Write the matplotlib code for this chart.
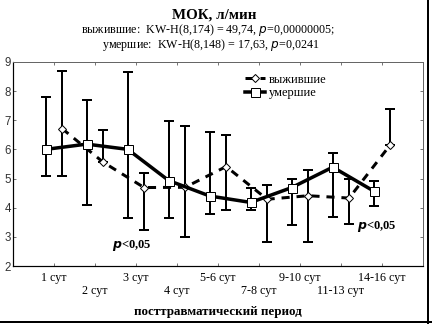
import numpy as np
import matplotlib
matplotlib.use("Agg")
import matplotlib.pyplot as plt
from matplotlib.lines import Line2D

plt.rcParams["font.family"] = ["Liberation Serif", "DejaVu Serif"]

# Days after trauma
categories = ["1 сут", "2 сут", "3 сут", "4 сут", "5-6 сут", "7-8 сут",
              "9-10 сут", "11-13 сут", "14-16 сут"]

# умершие: mean and interval bounds
died_mean = [6.0, 6.18, 6.0, 4.93, 4.4, 4.18, 4.69, 5.39, 4.57]
died_hi = [7.8, 7.71, 8.65, 6.98, 6.58, 4.67, 5.0, 5.89, 4.92]
died_lo = [5.1, 4.1, 3.66, 3.66, 3.8, 3.92, 3.41, 3.69, 4.06]

# выжившие: mean and interval bounds
surv_mean = [6.71, 5.56, 4.69, 4.7, 5.41, 4.29, 4.41, 4.33, 6.15]
surv_hi = [8.7, 6.68, 5.2, 6.81, 6.5, 4.78, 5.29, 5.0, 7.38]
surv_lo = [5.1, 5.56, 3.22, 3.0, 3.92, 2.81, 2.81, 3.43, 6.15]

x = np.arange(1, len(categories) + 1)
off = 0.2

fig = plt.figure(figsize=(6, 4.5), dpi=72)
ax = fig.add_axes([0.030, 0.179, 0.949, 0.630])

# error bars
dm = np.array(died_mean)
sm = np.array(surv_mean)
ax.errorbar(x - off, dm, yerr=[dm - np.array(died_lo), np.array(died_hi) - dm],
            fmt="none", ecolor="black", elinewidth=2, capsize=5, capthick=2, zorder=2)
ax.errorbar(x + off, sm, yerr=[sm - np.array(surv_lo), np.array(surv_hi) - sm],
            fmt="none", ecolor="black", elinewidth=2, capsize=5, capthick=2, zorder=2)

# series lines
ax.plot(x + off, sm, color="black", linewidth=3, dashes=(2.7, 2.3),
        marker="D", markersize=6, markerfacecolor="white", markeredgecolor="black",
        markeredgewidth=1, label="выжившие", zorder=3)
ax.plot(x - off, dm, color="black", linewidth=3.5,
        marker="s", markersize=9, markerfacecolor="white", markeredgecolor="black",
        markeredgewidth=1, label="умершие", zorder=4)

ax.set_xlim(0, 10)
ax.set_ylim(2, 9)
ax.set_xticks(x)
ax.set_xticklabels(categories, fontsize=12)
ax.set_yticks(range(2, 10))
ax.set_yticklabels([str(v) for v in range(2, 10)], fontsize=11.5, family="Liberation Sans",
                   color="#333333")
ax.tick_params(axis="x", direction="in", length=3, top=True, color="#555555")
ax.tick_params(axis="y", direction="in", length=3, right=True, pad=2, color="#555555")
# staggered category labels: every second one on a lower row
for i, tick in enumerate(ax.xaxis.get_major_ticks()):
    tick.set_pad(6 if i % 2 == 0 else 19)
for side in ["top", "right"]:
    ax.spines[side].set_color("#666666")
    ax.spines[side].set_linewidth(1)
for side in ["left", "bottom"]:
    ax.spines[side].set_color("black")
    ax.spines[side].set_linewidth(1.2)

ax.set_xlabel("посттравматический период", fontsize=13, fontweight="bold", labelpad=9)

ax.legend(loc="upper left", bbox_to_anchor=(0.545, 0.985), frameon=False, fontsize=12.5,
          handlelength=1.6, handletextpad=0.3, labelspacing=0.1, borderpad=0.2)

# significance marks
ax.text(2.9, 2.72, r"$\boldsymbol{p}$<0,05", fontsize=12.5, fontweight="bold",
        ha="center", va="center")
ax.text(8.88, 3.34, r"$\boldsymbol{p}$<0,05", fontsize=12.5, fontweight="bold",
        ha="center", va="center")

fig.text(0.495, 0.955, "МОК, л/мин", fontsize=15, fontweight="bold", ha="center", va="center")
fig.text(0.482, 0.907, "выжившие:  KW-H(8,174) = 49,74, $p$=0,00000005;",
         fontsize=12, ha="center", va="center")
fig.text(0.488, 0.862, "умершие:  KW-H(8,148) = 17,63, $p$=0,0241",
         fontsize=12, ha="center", va="center")

# outer frame
fig.add_artist(Line2D([0.9907, 0.9907], [0.0, 1.0], color="black", linewidth=2,
                      transform=fig.transFigure))
fig.add_artist(Line2D([0.0, 1.0], [0.006, 0.006], color="black", linewidth=2,
                      transform=fig.transFigure))

fig.savefig("out.png", dpi=72)
